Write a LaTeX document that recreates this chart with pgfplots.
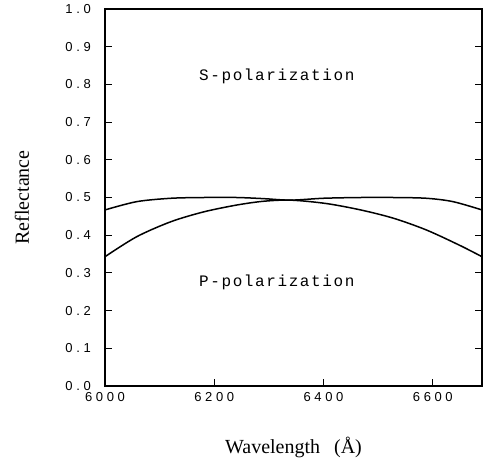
\documentclass[border=0pt]{standalone}
\usepackage{fontspec}
\setmainfont{Liberation Serif}
\newfontfamily\tickfont[LetterSpace=28]{Liberation Sans}
\newfontfamily\annfont[LetterSpace=10]{Liberation Mono}
\usepackage{pgfplots}
\pgfplotsset{compat=1.18}
\begin{document}
\begin{tikzpicture}
\begin{axis}[
  name=ax, scale only axis, width=377pt, height=377pt,
  xmin=6000, xmax=6690, ymin=0, ymax=1,
  xtick={6000,6200,6400,6600},
  xticklabels={6000,6200,6400,6600},
  ytick={0,0.1,0.2,0.3,0.4,0.5,0.6,0.7,0.8,0.9,1.0},
  yticklabels={0.0,0.1,0.2,0.3,0.4,0.5,0.6,0.7,0.8,0.9,1.0},
  tick align=inside, xtick pos=bottom, ytick pos=both,
  major tick length=7pt,
  axis line style={line width=1.3pt},
  tick style={line width=1pt, black},
  ticklabel style={font=\tickfont\fontsize{13}{13}\selectfont},
  yticklabel style={anchor=east, inner sep=0pt, xshift=-14pt},
  xticklabel style={anchor=north, inner sep=0pt, yshift=-6pt},
  xlabel={Wavelength\hspace{0.7em}(Å)},
  ylabel={Reflectance},
  label style={font=\fontsize{20}{20}\selectfont},
  xlabel style={at={(axis description cs:0.5,-0.1777)}, anchor=base},
  ylabel style={at={(axis description cs:-0.2016,0.5)}, anchor=base},
]
\addplot[black, line width=1.5pt, smooth, tension=0.5] coordinates {
  (6000,0.343) (6058,0.396) (6121,0.436) (6181,0.462) (6241,0.480)
  (6290,0.490) (6340,0.493) (6405,0.484) (6468,0.467) (6528,0.445)
  (6588,0.414) (6648,0.374) (6690,0.343)
};
\addplot[black, line width=1.5pt, smooth, tension=0.5] coordinates {
  (6000,0.467) (6058,0.489) (6121,0.498) (6181,0.500) (6241,0.500)
  (6290,0.497) (6340,0.493) (6400,0.498) (6468,0.500) (6528,0.500)
  (6588,0.498) (6637,0.489) (6690,0.467)
};
\node[anchor=west, inner sep=0pt, font=\annfont\fontsize{16}{16}\selectfont] at (axis cs:6172,0.822) {S-polarization};
\node[anchor=west, inner sep=0pt, font=\annfont\fontsize{16}{16}\selectfont] at (axis cs:6172,0.276) {P-polarization};
\end{axis}
\pgfresetboundingbox
\useasboundingbox (ax.south west) ++(-105pt,-78pt) rectangle ++(484pt,464pt);
\end{tikzpicture}
\end{document}
